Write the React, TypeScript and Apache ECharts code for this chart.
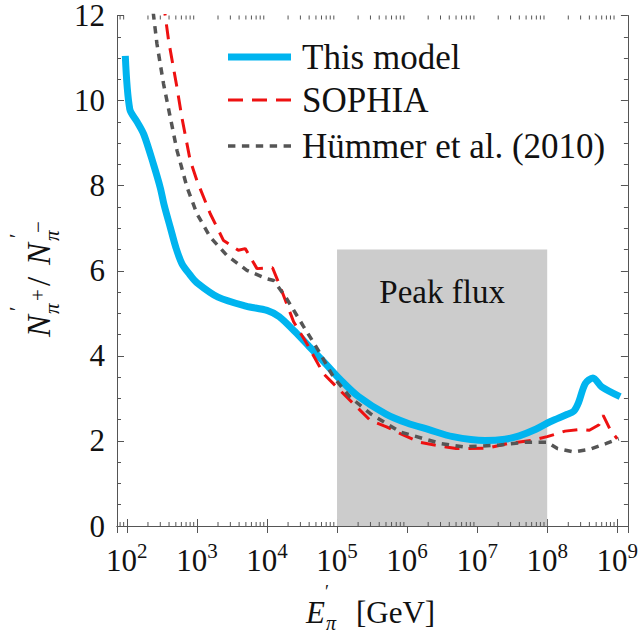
import React, { useEffect, useRef } from "react";
import * as echarts from "echarts";

// ---- data ----
const modelE = [95, 110, 140, 175, 240, 300, 340, 420, 500, 610, 800, 1000, 2000, 5000, 1e4, 1.5e4, 2.5e4, 4e4, 7e4, 1.1e5, 2e5, 5e5, 1e6, 2e6, 4.5e6, 1.3e7, 2.5e7, 4e7, 7e7, 1.1e8, 1.9e8, 2.4e8, 2.8e8, 3.5e8, 4.5e8, 6e8, 1.1e9];
const modelR = [11.05, 9.8, 9.5, 9.2, 8.5, 7.95, 7.55, 7.0, 6.55, 6.17, 5.9, 5.72, 5.38, 5.17, 5.07, 4.92, 4.57, 4.22, 3.8, 3.45, 3.05, 2.63, 2.42, 2.27, 2.1, 2.01, 2.04, 2.12, 2.28, 2.45, 2.62, 2.7, 2.9, 3.35, 3.48, 3.27, 3.04];

const sophiaE = [330, 395, 520, 610, 800, 1000, 1550, 2400, 3900, 4900, 7200, 1.2e4, 1.5e4, 2.4e4, 3.7e4, 6.4e4, 1.1e5, 3e5, 5.1e5, 8e5, 1.5e6, 3e6, 5e6, 1.4e7, 3e7, 6e7, 1e8, 1.8e8, 3e8, 4e8, 5.5e8, 6.3e8, 8e8, 1e9];
const sophiaR = [12.35, 11.4, 10.3, 9.6, 8.6, 8.12, 7.34, 6.71, 6.48, 6.52, 6.05, 6.07, 5.68, 4.8, 4.29, 3.58, 3.19, 2.48, 2.33, 2.17, 1.97, 1.88, 1.82, 1.83, 1.95, 2.01, 2.1, 2.23, 2.27, 2.25, 2.38, 2.6, 2.25, 2.05];

const hummerE = [225, 269, 334, 416, 519, 720, 1000, 1550, 2680, 5160, 1e4, 1.25e4, 1.9e4, 3.3e4, 5.4e4, 8.9e4, 1.54e5, 3e5, 8e5, 3e6, 6.4e6, 2e7, 5e7, 1e8, 1.4e8, 2.4e8, 4e8, 7e8, 1.05e9];
const hummerR = [12.4, 11.33, 10.39, 9.61, 8.83, 7.97, 7.34, 6.79, 6.36, 6.01, 5.81, 5.77, 5.35, 4.7, 4.13, 3.5, 3.03, 2.64, 2.21, 1.94, 1.86, 1.9, 1.97, 1.97, 1.82, 1.74, 1.8, 1.94, 2.05];

const seriesNames = ["This model", "SOPHIA", "Hümmer et al. (2010)"];
const peakRange = [1e5, 1e8];
const peakTop = 6.5;
const peakLabel = "Peak flux";

const xMin = 72.3;
const xMax = 1.42e9;
const yMin = 0;
const yMax = 12;
const yStep = 2;
const minorMultipliers = [2, 3, 4, 5, 6, 7, 8, 9];
const minorDecades = [1, 2, 3, 4, 5, 6, 7, 8, 9];

const FONT = "'Liberation Serif', 'Times New Roman', serif";
const AXIS = "#555";
const BLUE = "#00b4ef";
const RED = "#ee1111";
const GRAY = "#555555";

export default function App() {
  const ref = useRef<HTMLDivElement>(null);
  useEffect(() => {
    const chart = echarts.init(ref.current!, null, { renderer: "svg" });
    const pair = (xs: number[], ys: number[]) => xs.map((x, i) => [x, ys[i]]);
    const minorTicks: number[][] = [];
    minorDecades.forEach((d) =>
      minorMultipliers.forEach((m) => {
        const v = m * Math.pow(10, d);
        if (v > xMin && v < xMax) minorTicks.push([v, yMin]);
      })
    );

    const xAxisBase = {
      type: "log",
      logBase: 10,
      min: xMin,
      max: xMax,
      axisLine: { show: true, lineStyle: { color: AXIS, width: 1 } },
      axisTick: { show: true, inside: true, length: 7, lineStyle: { color: AXIS, width: 1 } },
      splitLine: { show: false },
      minorTick: { show: false },
    };
    const yAxisBase = {
      type: "value",
      min: yMin,
      max: yMax,
      interval: yStep,
      axisLine: { show: true, lineStyle: { color: AXIS, width: 1 } },
      axisTick: { show: true, inside: true, length: 7, lineStyle: { color: AXIS, width: 1 } },
      minorTick: { show: true, splitNumber: 4, length: 4, lineStyle: { color: AXIS, width: 1 } },
      splitLine: { show: false },
    };

    const txt = (text: string, x: number, y: number, size: number, italic = false) => ({
      type: "text",
      x,
      y,
      silent: true,
      style: {
        text,
        fontFamily: FONT,
        fontSize: size,
        fontStyle: italic ? "italic" : "normal",
        fill: "#111",
        align: "left",
        verticalAlign: "middle",
      },
    });

    const legendY = [57, 100, 146];
    const legendStyles = [
      { stroke: BLUE, lineWidth: 7 },
      { stroke: RED, lineWidth: 3, lineDash: [15, 9] },
      { stroke: GRAY, lineWidth: 3.5, lineDash: [7.4, 6.5] },
    ];
    const legendGraphics: any[] = [];
    seriesNames.forEach((name, i) => {
      legendGraphics.push({
        type: "line",
        silent: true,
        shape: { x1: 228, y1: legendY[i], x2: 291, y2: legendY[i] },
        style: legendStyles[i],
      });
      legendGraphics.push(txt(name, 302, legendY[i], 35));
    });

    const option: any = {
      animation: false,
      grid: { left: 117, right: 13, top: 15, bottom: 109, containLabel: false },
      xAxis: [
        {
          ...xAxisBase,
          position: "bottom",
          axisLabel: {
            showMinLabel: false,
            showMaxLabel: false,
            margin: 14,
            formatter: (v: number) => `{b|10}{s|${Math.round(Math.log10(v))}}`,
            rich: {
              b: { fontFamily: FONT, fontSize: 31, color: "#111" },
              s: { fontFamily: FONT, fontSize: 21, color: "#111", padding: [0, 0, 20, 0] },
            },
          },
        },
        { ...xAxisBase, position: "top", axisLabel: { show: false } },
      ],
      yAxis: [
        {
          ...yAxisBase,
          position: "left",
          axisLabel: { fontFamily: FONT, fontSize: 31, lineHeight: 24, color: "#111", margin: 12 },
        },
        { ...yAxisBase, position: "right", axisLabel: { show: false } },
      ],
      series: [
        {
          type: "line",
          name: "peak",
          data: [],
          z: 1,
          silent: true,
          markArea: {
            silent: true,
            itemStyle: { color: "#cccccc" },
            label: {
              show: true,
              position: "insideTop",
              distance: 26,
              fontFamily: FONT,
              fontSize: 33,
              color: "#111",
            },
            data: [
              [
                { name: peakLabel, xAxis: peakRange[0], yAxis: yMin },
                { xAxis: peakRange[1], yAxis: peakTop },
              ],
            ],
          },
        },
        {
          type: "line",
          name: seriesNames[0],
          data: pair(modelE, modelR),
          symbol: "none",
          smooth: 0.3,
          z: 3,
          lineStyle: { color: BLUE, width: 7 },
        },
        {
          type: "line",
          name: seriesNames[1],
          data: pair(sophiaE, sophiaR),
          symbol: "none",
          z: 4,
          lineStyle: { color: RED, width: 3, type: [15, 9] },
        },
        {
          type: "line",
          name: seriesNames[2],
          data: pair(hummerE, hummerR),
          symbol: "none",
          z: 5,
          lineStyle: { color: GRAY, width: 3.5, type: [7.4, 6.5] },
        },
        {
          type: "custom",
          silent: true,
          clip: false,
          z: 6,
          data: minorTicks,
          renderItem: (_p: any, api: any) => {
            const v = api.value(0);
            const b = api.coord([v, yMin]);
            const t = api.coord([v, yMax]);
            return {
              type: "group",
              children: [
                { type: "line", shape: { x1: b[0], y1: b[1], x2: b[0], y2: b[1] - 4 }, style: { stroke: AXIS, lineWidth: 1 } },
                { type: "line", shape: { x1: t[0], y1: t[1], x2: t[0], y2: t[1] + 4 }, style: { stroke: AXIS, lineWidth: 1 } },
              ],
            };
          },
        },
      ],
      graphic: [
        ...legendGraphics,
        // x-axis title
        txt("E", 306, 612, 31, true),
        txt("′", 325, 592, 18),
        txt("π", 326, 623, 20, true),
        txt("[GeV]", 356, 612, 31),
        // y-axis title (rotated)
        {
          type: "group",
          x: 50,
          y: 337,
          rotation: Math.PI / 2,
          silent: true,
          children: [
            txt("N", 0, -11, 33, true),
            txt("π", 23, 2, 21, true),
            txt("′", 26, -33, 20),
            txt("+", 36, -12, 21),
            txt("/", 51, -11, 33),
            txt("N", 72, -11, 33, true),
            txt("π", 96, 2, 21, true),
            txt("′", 99, -33, 20),
            txt("−", 104, -12, 21),
          ],
        },
      ],
    };
    chart.setOption(option);
    return () => chart.dispose();
  }, []);
  return <div ref={ref} style={{ position: "absolute", left: 0, top: 0, width: 641, height: 635 }} />;
}
